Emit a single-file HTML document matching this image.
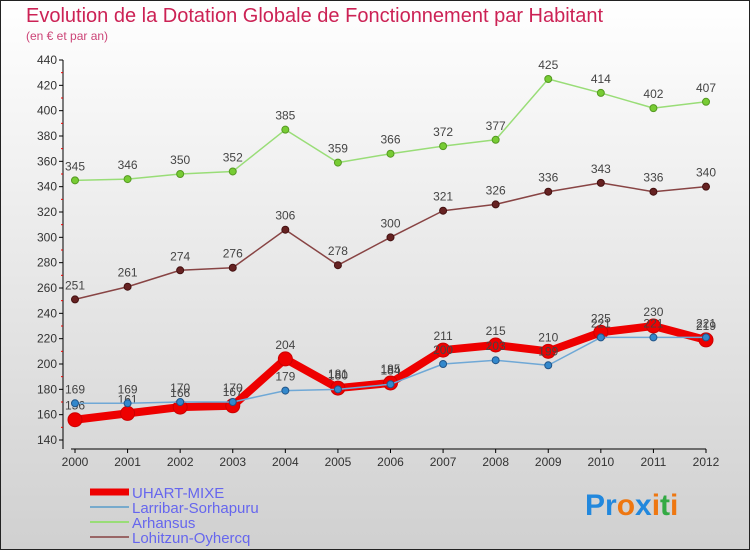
<!DOCTYPE html>
<html><head><meta charset="utf-8"><style>
body{margin:0;}
#c{width:750px;height:550px;position:relative;overflow:hidden;font-family:"Liberation Sans",sans-serif;}
</style></head><body>
<div id="c">
<svg id="s" width="750" height="550" xmlns="http://www.w3.org/2000/svg">
<defs><linearGradient id="bg" x1="0" y1="0" x2="0" y2="1"><stop offset="0" stop-color="#ffffff"/><stop offset="1" stop-color="#d0d0d0"/></linearGradient></defs>
<rect x="0" y="0" width="750" height="550" fill="url(#bg)" stroke="#222" stroke-width="2"/>
<text x="26" y="22" font-size="20" fill="#cc2255">Evolution de la Dotation Globale de Fonctionnement par Habitant</text>
<text x="26" y="40" font-size="12" fill="#cc4477">(en € et par an)</text>
<g id="axes"></g><g id="series"></g><g id="legend"></g>
<text x="585" y="515" font-size="30" font-weight="bold"><tspan fill="#2288dd">Pr</tspan><tspan fill="#ee7711">o</tspan><tspan fill="#2288dd">x</tspan><tspan fill="#ee7711">i</tspan><tspan fill="#33aa44">t</tspan><tspan fill="#ee7711">i</tspan></text>
</svg>
</div>
<script>
const years=[2000,2001,2002,2003,2004,2005,2006,2007,2008,2009,2010,2011,2012];
const yTicks=[140,160,180,200,220,240,260,280,300,320,340,360,380,400,420,440];
const uhart=[156,161,166,167,204,181,185,211,215,210,225,230,219];
const larribar=[169,169,170,170,179,180,184,200,203,199,221,221,221];
const arhansus=[345,346,350,352,385,359,366,372,377,425,414,402,407];
const lohitzun=[251,261,274,276,306,278,300,321,326,336,343,336,340];
const NS="http://www.w3.org/2000/svg";
function X(i){return 75+i*(706-75)/(years.length-1);}
function Y(v){return 440-(v-140)*380/300;}
function mk(t,a,p){const e=document.createElementNS(NS,t);for(const k in a)e.setAttribute(k,a[k]);p.appendChild(e);return e;}
const ax=document.getElementById('axes');
let l=mk('line',{x1:63,y1:Y(440),x2:63,y2:449,stroke:'#000'},ax);


l=mk('line',{x1:71,y1:449,x2:706,y2:449,stroke:'#000'},ax);


yTicks.forEach(v=>{
 mk('line',{x1:59,y1:Y(v),x2:63,y2:Y(v),stroke:'#000'},ax);
 if(v<440) mk('line',{x1:61,y1:Y(v+10),x2:63,y2:Y(v+10),stroke:'#e00'},ax);
 const t=mk('text',{x:57,y:Y(v)+4,'font-size':12,'text-anchor':'end',fill:'#333'},ax);t.textContent=v;
 
 
});
years.forEach((y,i)=>{
 mk('line',{x1:X(i),y1:449,x2:X(i),y2:453,stroke:'#000'},ax);
 const t=mk('text',{x:X(i),y:466,'font-size':12,'text-anchor':'middle',fill:'#333'},ax);t.textContent=y;
 
 
});
const sg=document.getElementById('series');
function series(vals,name,color,w,r,dot,dotStroke){
 const g=mk('g',{},sg);
 
 
 mk('polyline',{points:vals.map((v,i)=>X(i)+','+Y(v)).join(' '),fill:'none',stroke:color,'stroke-width':w,'stroke-linejoin':'round'},g);
 vals.forEach((v,i)=>{
  const c=mk('circle',{cx:X(i),cy:Y(v),r:r,fill:dot,stroke:dotStroke,'stroke-width':1},g);
  
  
  const t=mk('text',{x:X(i),y:Y(v)-10,'font-size':12,'text-anchor':'middle',fill:'#444'},g);t.textContent=v;
  
  
 });
}
series(arhansus,'arhansus','#99dd77',1.5,3.5,'#77cc33','#559922');
series(lohitzun,'lohitzun','#884444',1.5,3.5,'#662222','#441111');
series(uhart,'uhart-mixe','#ee0000',8,7,'#ee0000','#cc0000');
series(larribar,'larribar','#6fa8d6',1.5,3.5,'#3388cc','#225588');
const lg=document.getElementById('legend');
[['UHART-MIXE','#ee0000',7],['Larribar-Sorhapuru','#77aacc',2],['Arhansus','#99dd77',2],['Lohitzun-Oyhercq','#996666',2]].forEach((d,i)=>{
 const y=492+i*15;
 const g=mk('g',{},lg);
 
 
 mk('line',{x1:90,y1:y,x2:129,y2:y,stroke:d[1],'stroke-width':d[2]},g);
 const t=mk('text',{x:132,y:y+6,'font-size':15,fill:'#6666ee'},g);t.textContent=d[0];
});
</script>
</body></html>
